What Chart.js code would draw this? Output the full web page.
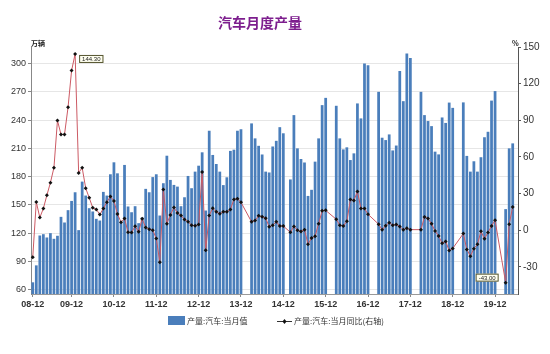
<!DOCTYPE html>
<html>
<head>
<meta charset="utf-8">
<title>汽车月度产量</title>
<script src="https://cdn.jsdelivr.net/npm/chart.js@4.4.1/dist/chart.umd.min.js"></script>
<style>
  html, body { margin: 0; padding: 0; background: #fff; }
  #wrap { width: 550px; height: 354px; position: relative; }
</style>
</head>
<body>
<div id="wrap"><canvas id="autoChart"></canvas></div>
<script>
// ---- data (万辆 and %) ----
const chartTitle = '汽车月度产量';
const leftUnit = '万辆';
const rightUnit = '%';
const barLabel = '产量:汽车:当月值';
const lineLabel = '产量:汽车:当月同比(右轴)';

// monthly output, Jan..Dec (null = no figure published for that month)
const output2009 = [67.8, 85.8, 117.5, 118.9, 115.4, 120.0, 114.0, 117.2, 137.3, 131.3, 144.4, 154.2];
const output2010 = [163.4, 123.2, 174.7, 159.9, 146.5, 143.0, 135.2, 133.4, 163.8, 159.9, 182.5, 195.2];
const output2011 = [183.5, 131.7, 192.4, 148.3, 142.2, 148.6, 130.6, 136.6, 167.0, 163.4, 179.5, 182.5];
const output2012 = [138.7, 173.0, 202.2, 176.5, 171.2, 169.4, 148.6, 158.1, 180.7, 167.7, 185.3, 191.6];
const output2013 = [205.8, 144.0, 228.7, 203.0, 193.4, 185.3, 171.0, 179.3, 207.3, 208.6, 228.7, 230.3];
const output2014 = [null, null, 236.5, 220.6, 212.7, 203.5, 185.3, 184.4, 212.0, 218.0, 232.5, 226.0];
const output2015 = [null, 177.0, 245.3, 210.0, 198.7, 195.0, 159.5, 166.0, 195.9, 220.6, 255.9, 263.6];
const output2016 = [null, null, 255.2, 220.6, 208.9, 211.1, 197.6, 204.7, 257.7, 241.8, 300.0, 298.2];
const output2017 = [null, null, 270.0, 221.3, 218.8, 224.8, 207.8, 213.0, 292.0, 260.1, 310.6, 306.0];
const output2018 = [null, null, 270.0, 245.3, 239.0, 233.6, 206.5, 203.6, 242.8, 237.0, 258.6, 253.0];
const output2019 = [null, null, 258.8, 202.0, 185.3, 196.3, 185.3, 200.6, 221.8, 227.6, 260.7, 270.8];
const output2020 = [null, null, 145.5, 210.0, 215.3, null];

// year-on-year change, Jan..Dec
const yoy2009 = [-22.1, 23.1, 10.3, 17.7, 28.6, 38.9, 51.2, 89.8, 78.4, 78.4, 100.7, 130.7];
const yoy2010 = [144.3, 46.8, 51.2, 34.4, 26.5, 18.3, 17.0, 12.8, 17.7, 22.9, 27.5, 23.9];
const yoy2011 = [13.3, 6.5, 9.5, -1.7, -2.0, 3.2, -1.4, 9.3, 2.2, 0.8, 0.0, -6.8];
const yoy2012 = [-26.2, 33.2, 5.2, 12.5, 18.5, 14.1, 12.0, 8.8, 6.8, 4.1, 3.5, 4.7];
const yoy2013 = [47.6, -16.4, 12.0, 18.0, 15.0, 13.4, 15.0, 15.0, 16.9, 25.2, 25.8, 22.8];
const yoy2014 = [null, null, 6.8, 7.8, 11.7, 10.9, 9.8, 2.7, 4.1, 6.8, 3.4, 3.3];
const yoy2015 = [null, -1.7, 3.0, 0.0, -1.1, 0.4, -11.5, -6.5, -4.9, 5.2, 15.8, 16.2];
const yoy2016 = [null, null, 8.9, 4.1, 3.4, 7.2, 25.0, 24.3, 31.7, 17.7, 17.7, 13.0];
const yoy2017 = [null, null, 4.9, 0.3, 3.7, 6.1, 4.1, 4.6, 3.0, 0.3, 1.5, 0.4];
const yoy2018 = [null, null, 0.4, 10.8, 9.5, 5.2, -0.7, -4.8, -10.7, -9.2, -16.7, -15.0];
const yoy2019 = [null, null, -2.8, -15.8, -21.3, -15.2, -11.6, -1.0, -7.0, -1.9, 3.4, 8.1];
const yoy2020 = [null, null, -43.0, 4.9, 19.0, null];

const years = [2009, 2010, 2011, 2012, 2013, 2014, 2015, 2016, 2017, 2018, 2019, 2020];
const outputByYear = [output2009, output2010, output2011, output2012, output2013, output2014,
                      output2015, output2016, output2017, output2018, output2019, output2020];
const yoyByYear = [yoy2009, yoy2010, yoy2011, yoy2012, yoy2013, yoy2014,
                   yoy2015, yoy2016, yoy2017, yoy2018, yoy2019, yoy2020];

// axis ticks
const leftTicks = [60, 90, 120, 150, 180, 210, 240, 270, 300];
const rightTicks = [-30, 0, 30, 60, 90, 120, 150];
const tickMonths = ['2009-01', '2009-12', '2010-12', '2011-12', '2012-12', '2013-12',
                    '2014-12', '2015-12', '2016-12', '2017-12', '2018-12', '2019-12'];
const tickTexts = ['08-12', '09-12', '10-12', '11-12', '12-12', '13-12',
                   '14-12', '15-12', '16-12', '17-12', '18-12', '19-12'];
// points that carry a value flag
const flaggedMonths = ['2010-01', '2020-03'];

// flatten per-year arrays into one category list
const months = [];
const output = [];
const yoy = [];
years.forEach(function (y, k) {
    outputByYear[k].forEach(function (v, m) {
        months.push(y + '-' + String(m + 1).padStart(2, '0'));
        output.push(v);
        yoy.push(yoyByYear[k][m]);
    });
});

const FONT = '"Liberation Sans", Arial, sans-serif';
const CJK = '"Noto Sans CJK SC", "Noto Sans", sans-serif';
const BAR_COLOR = '#4a7ebb';
const LINE_COLOR = '#cc5a64';

// Title, axis units, value flags and legend drawn on the canvas
const decorations = {
    id: 'decorations',
    afterDraw(chart) {
        const ctx = chart.ctx;
        const area = chart.chartArea;
        ctx.save();

        ctx.font = 'bold 14px ' + CJK;
        ctx.fillStyle = '#7d1e8e';
        ctx.textAlign = 'center';
        ctx.textBaseline = 'middle';
        ctx.fillText(chartTitle, 260, 23);

        ctx.font = 'bold 7px ' + CJK;
        ctx.fillStyle = '#222';
        ctx.textAlign = 'left';
        ctx.fillText(leftUnit, area.left, area.top - 4);
        ctx.fillText(rightUnit, area.right - 6, area.top - 4);

        // value flags next to the extreme points
        const meta = chart.getDatasetMeta(1);
        flaggedMonths.forEach(function (m) {
            const i = months.indexOf(m);
            const pt = meta.data[i];
            const text = yoy[i].toFixed(2);
            ctx.font = '6px ' + FONT;
            const w = ctx.measureText(text).width + 6;
            const h = 8;
            const x = yoy[i] >= 0 ? pt.x + 4 : pt.x - 7 - w;
            const y = yoy[i] >= 0 ? pt.y + 1 : pt.y - 9;
            ctx.fillStyle = '#fffff0';
            ctx.fillRect(x, y, w, h);
            ctx.strokeStyle = '#55552f';
            ctx.lineWidth = 1;
            ctx.strokeRect(x + 0.5, y + 0.5, w - 1, h - 1);
            ctx.fillStyle = '#222';
            ctx.textAlign = 'center';
            ctx.textBaseline = 'middle';
            ctx.fillText(text, x + w / 2, y + h / 2 + 0.5);
        });

        // legend
        const ly = 321;
        ctx.fillStyle = BAR_COLOR;
        ctx.fillRect(168, ly - 5, 17, 9);
        ctx.font = '8px ' + CJK;
        ctx.fillStyle = '#333';
        ctx.textAlign = 'left';
        ctx.textBaseline = 'middle';
        ctx.fillText(barLabel, 187, ly);

        ctx.strokeStyle = '#333';
        ctx.lineWidth = 1;
        ctx.beginPath();
        ctx.moveTo(277, ly + 0.5);
        ctx.lineTo(292, ly + 0.5);
        ctx.stroke();
        ctx.fillStyle = '#111';
        ctx.beginPath();
        ctx.moveTo(284.5, ly - 2);
        ctx.lineTo(286.5, ly + 0.5);
        ctx.lineTo(284.5, ly + 3);
        ctx.lineTo(282.5, ly + 0.5);
        ctx.closePath();
        ctx.fill();
        ctx.fillStyle = '#333';
        ctx.fillText(lineLabel, 294, ly);

        ctx.restore();
    }
};

// Function to render the combined bar + line chart
function renderProductionChart() {
    const ctx = document.getElementById('autoChart').getContext('2d');
    new Chart(ctx, {
        type: 'bar',
        data: {
            labels: months,
            datasets: [{
                type: 'bar',
                label: barLabel,
                data: output,
                yAxisID: 'y',
                backgroundColor: BAR_COLOR,
                barPercentage: 0.78,
                categoryPercentage: 1.0,
                order: 1
            }, {
                type: 'line',
                label: lineLabel,
                data: yoy,
                yAxisID: 'y1',
                borderColor: LINE_COLOR,
                borderWidth: 1,
                tension: 0,
                spanGaps: true,
                pointStyle: 'rectRot',
                pointRadius: 2,
                pointBackgroundColor: '#111',
                pointBorderColor: '#111',
                pointBorderWidth: 0,
                order: 0
            }]
        },
        options: {
            responsive: true,
            maintainAspectRatio: false,
            animation: false,
            devicePixelRatio: 1,
            layout: { padding: { left: 0, right: 0, top: 47, bottom: 42 } },
            plugins: {
                legend: { display: false },
                title: { display: false },
                tooltip: { enabled: false }
            },
            scales: {
                x: {
                    type: 'category',
                    offset: true,
                    grid: {
                        drawOnChartArea: false,
                        offset: false,
                        tickLength: 3,
                        color: function (c) {
                            return tickMonths.includes(months[c.index]) ? '#888' : 'rgba(0,0,0,0)';
                        }
                    },
                    border: { color: '#999' },
                    ticks: {
                        autoSkip: false,
                        maxRotation: 0,
                        minRotation: 0,
                        padding: 2,
                        color: '#333',
                        font: { family: FONT, size: 9, weight: 'bold' },
                        callback: function (v, i) {
                            const k = tickMonths.indexOf(months[i]);
                            return k >= 0 ? tickTexts[k] : '';
                        }
                    },
                    afterFit: function (s) { s.height = 18; }
                },
                y: {
                    position: 'left',
                    min: 55.4,
                    max: 317.6,
                    afterBuildTicks: function (s) { s.ticks = leftTicks.map(function (v) { return { value: v }; }); },
                    grid: { color: '#e6e6e6', tickColor: '#888', tickLength: 3 },
                    border: { color: '#888' },
                    ticks: { padding: 2, color: '#333', font: { family: FONT, size: 9 } },
                    afterFit: function (s) { s.width = 31; }
                },
                y1: {
                    position: 'right',
                    min: -52.3,
                    max: 150,
                    afterBuildTicks: function (s) { s.ticks = rightTicks.map(function (v) { return { value: v }; }); },
                    grid: { drawOnChartArea: false, tickColor: '#555', tickLength: 3 },
                    border: { color: '#555' },
                    ticks: { padding: 2, color: '#333', font: { family: FONT, size: 10 } },
                    afterFit: function (s) { s.width = 32; }
                }
            }
        },
        plugins: [decorations]
    });
}

renderProductionChart();
</script>
</body>
</html>
